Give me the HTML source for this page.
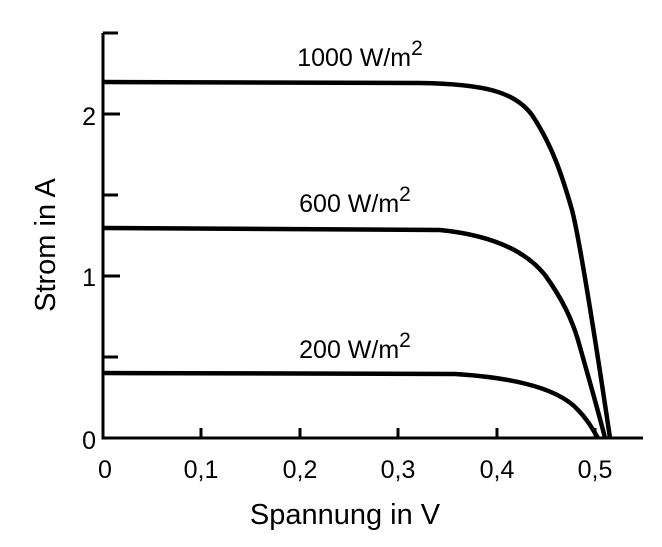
<!DOCTYPE html>
<html><head><style>body{margin:0;background:#fff}svg{display:block}text{font-family:"Liberation Sans",sans-serif;fill:#000}</style></head>
<body>
<svg width="662" height="547" viewBox="0 0 662 547">
<g stroke="#000" stroke-width="3" fill="none">
<path d="M103,33 V438 H643"/>
<path d="M103,33 H118 M103,114 H120 M103,195 H118 M103,276 H120 M103,357 H118"/>
<path d="M201,438 V428 M300,438 V428 M398,438 V428 M497,438 V428 M595,438 V428"/>
</g>
<g stroke="#000" stroke-width="4.5" fill="none">
<path d="M103,82 L420,83 C485,84 515,92 532,115 C552,145 562,175 572,210 C580,240 600,370 610,438"/>
<path d="M103,228 L440,230 C490,235 525,250 545,275 C563,300 572,320 578,340 C585,365 598,410 605,438"/>
<path d="M103,373 L455,374 C520,378 560,390 578,410 C588,420 593,430 598,438"/>
</g>
<g font-size="25" text-anchor="middle">
<text x="360" y="66">1000 W/m<tspan dy="-11" font-size="21">2</tspan></text>
<text x="355" y="212">600 W/m<tspan dy="-11" font-size="21">2</tspan></text>
<text x="355" y="358">200 W/m<tspan dy="-11" font-size="21">2</tspan></text>
<text x="96" y="125" text-anchor="end">2</text>
<text x="96" y="286" text-anchor="end">1</text>
<text x="96" y="449" text-anchor="end">0</text>
<text x="105" y="478">0</text>
<text x="201" y="478">0,1</text>
<text x="300" y="478">0,2</text>
<text x="398" y="478">0,3</text>
<text x="497" y="478">0,4</text>
<text x="595" y="478">0,5</text>
</g>
<text x="345" y="524" font-size="29" text-anchor="middle">Spannung in V</text>
<text transform="translate(55,245) rotate(-90)" font-size="29" text-anchor="middle">Strom in A</text>
</svg>
</body></html>
